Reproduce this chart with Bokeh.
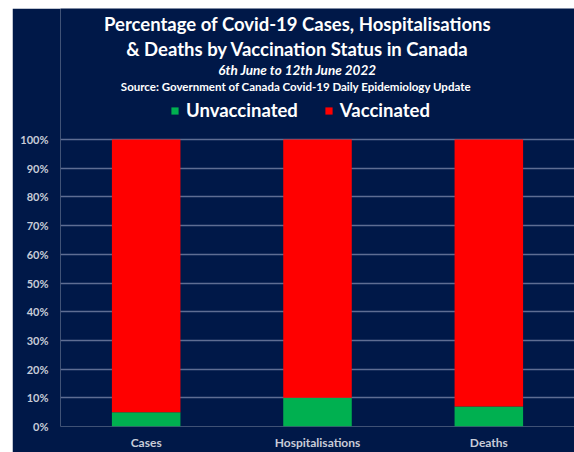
from bokeh.plotting import figure
from bokeh.models import ColumnDataSource, Range1d, Label, PrintfTickFormatter, FixedTicker, Spacer
from bokeh.layouts import row, column
from bokeh.embed import file_html
from bokeh.resources import INLINE

categories = ["Cases", "Hospitalisations", "Deaths"]
unvaccinated = [5, 10, 7]
vaccinated = [95, 90, 93]
y_ticks = [0, 10, 20, 30, 40, 50, 60, 70, 80, 90, 100]

NAVY = "#001848"
GREEN = "#00b050"
RED = "#ff0000"
FONT = "Lato"

OX, OY = 12, 8          # page offset of the chart
W, H = 562, 444
BOTTOM = 23
LEFT = 48
FRAME_H = H - BOTTOM
TOP_PX = 132            # canvas top to the 100% line
Y_END = 100 * FRAME_H / (FRAME_H - TOP_PX)

source = ColumnDataSource(dict(cat=categories, Unvaccinated=unvaccinated, Vaccinated=vaccinated))

p = figure(x_range=categories, y_range=Range1d(0, Y_END), width=W, height=H,
           output_backend="svg", toolbar_location=None,
           min_border_left=LEFT, min_border_right=0, min_border_top=0, min_border_bottom=BOTTOM)
p.background_fill_color = NAVY
p.border_fill_color = NAVY
p.outline_line_color = None

p.vbar_stack(["Unvaccinated", "Vaccinated"], x="cat", width=0.4, color=[GREEN, RED],
             source=source, legend_label=["Unvaccinated", "Vaccinated"], line_width=0)

p.xgrid.grid_line_color = None
p.ygrid.grid_line_color = "#5e6d93"
p.ygrid.grid_line_width = 1.5
p.ygrid.ticker = FixedTicker(ticks=y_ticks)

p.yaxis.ticker = FixedTicker(ticks=y_ticks)
p.yaxis.formatter = PrintfTickFormatter(format="%d%%")
for ax in (p.xaxis[0], p.yaxis[0]):
    ax.axis_line_color = None
    ax.major_tick_line_color = None
    ax.minor_tick_line_color = None
    ax.major_tick_out = 0
    ax.major_tick_in = 0
    ax.major_label_text_color = "#c8ccd8"
    ax.major_label_text_font = FONT
    ax.major_label_text_font_style = "bold"
    ax.major_label_text_font_size = "11px"
p.xaxis.major_label_text_font_size = "12px"
p.yaxis.major_label_standoff = 12
p.xaxis.major_label_standoff = 8

def fx(page_x):
    return page_x - (OX + LEFT)

def fy(page_y):
    return (OY + FRAME_H) - page_y

leg = p.legend[0]
leg.orientation = "horizontal"
leg.location = (fx(170), fy(124))
leg.background_fill_alpha = 0
leg.border_line_color = None
leg.padding = 0
leg.margin = 0
leg.spacing = 26
leg.glyph_width = 9
leg.glyph_height = 9
leg.label_standoff = 7
leg.label_text_color = "white"
leg.label_text_font = FONT
leg.label_text_font_style = "bold"
leg.label_text_font_size = "18.5px"

titles = [
    ("Percentage of Covid-19 Cases, Hospitalisations", 26, "18.5px", "bold"),
    ("& Deaths by Vaccination Status in Canada", 51, "18.5px", "bold"),
    ("6th June to 12th June 2022", 72, "13.5px", "bold italic"),
    ("Source: Government of Canada  Covid-19 Daily Epidemiology Update", 89, "11.5px", "bold"),
]
for txt, py, size, style in titles:
    p.add_layout(Label(x=fx(297), y=fy(py), x_units="screen", y_units="screen", text=txt,
                       text_align="center", text_baseline="middle", text_color="white",
                       text_font=FONT, text_font_size=size, text_font_style=style))

layout = column(Spacer(width=OX + W, height=OY), row(Spacer(width=OX, height=H), p))
open("out.html", "w").write(file_html(layout, INLINE))
